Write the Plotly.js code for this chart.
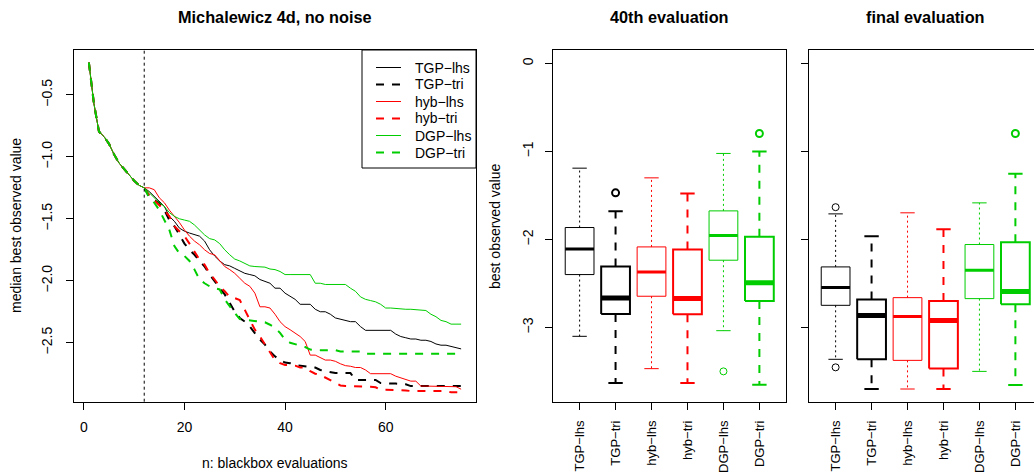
<!DOCTYPE html>
<html>
<head>
<meta charset="utf-8">
<script src="https://cdn.plot.ly/plotly-3.0.1.min.js"></script>
<style>
  html, body { margin: 0; padding: 0; overflow: hidden; background: #fff; }
  #chart { width: 1100px; height: 475px; }
</style>
</head>
<body>
<div id="chart"></div>
<script>
// ---------------- data ----------------
const seriesNames = ["TGP\u2212lhs", "TGP\u2212tri", "hyb\u2212lhs", "hyb\u2212tri", "DGP\u2212lhs", "DGP\u2212tri"];
const initDesignSize = 12;

// shared start (initial design, evaluations 1..12)
const initDesign = [-0.24, -0.57, -0.796, -0.836, -0.895, -0.98, -1.05, -1.10, -1.145, -1.193, -1.23, -1.25];

// median best observed value, evaluations 13..75
const tgpLhsTail = [-1.28, -1.32, -1.36, -1.40, -1.48, -1.52, -1.575, -1.60, -1.615, -1.63, -1.64, -1.68, -1.75, -1.80, -1.84, -1.87, -1.88, -1.90, -1.92, -1.94, -1.95, -1.96, -1.99, -2.005, -2.02, -2.06, -2.06, -2.10, -2.125, -2.15, -2.19, -2.19, -2.19, -2.23, -2.25, -2.25, -2.27,
  -2.30, -2.31, -2.32, -2.33, -2.33, -2.37, -2.40, -2.40, -2.40, -2.40, -2.40, -2.40, -2.43, -2.45, -2.46, -2.47, -2.47, -2.48, -2.48, -2.49, -2.51, -2.52, -2.52, -2.53, -2.54, -2.55];
const tgpTriTail = [-1.32, -1.35, -1.37, -1.43, -1.51, -1.56, -1.63, -1.70, -1.75, -1.79, -1.84, -1.885, -1.95, -2.005, -2.05, -2.11, -2.18, -2.25, -2.30, -2.33, -2.37, -2.42, -2.475, -2.515, -2.57, -2.61, -2.64, -2.66, -2.665, -2.68, -2.685, -2.685, -2.69, -2.70, -2.72, -2.73, -2.74,
  -2.745, -2.745, -2.745, -2.745, -2.80, -2.80, -2.80, -2.80, -2.80, -2.825, -2.83, -2.83, -2.83, -2.83, -2.835, -2.85, -2.85, -2.85, -2.85, -2.85, -2.85, -2.85, -2.85, -2.85, -2.85, -2.85];
const hybLhsTail = [-1.25, -1.265, -1.33, -1.37, -1.43, -1.48, -1.53, -1.59, -1.64, -1.68, -1.71, -1.75, -1.78, -1.79, -1.84, -1.885, -1.91, -1.94, -1.98, -2.02, -2.045, -2.10, -2.21, -2.21, -2.22, -2.27, -2.33, -2.37, -2.395, -2.42, -2.45, -2.49, -2.60, -2.60, -2.62, -2.64, -2.64,
  -2.65, -2.67, -2.685, -2.69, -2.70, -2.70, -2.72, -2.75, -2.75, -2.75, -2.75, -2.75, -2.77, -2.785, -2.80, -2.81, -2.81, -2.85, -2.85, -2.85, -2.85, -2.85, -2.85, -2.85, -2.855, -2.875];
const hybTriTail = [-1.31, -1.35, -1.39, -1.43, -1.48, -1.56, -1.60, -1.64, -1.70, -1.76, -1.83, -1.87, -1.94, -1.99, -2.045, -2.085, -2.13, -2.14, -2.155, -2.235, -2.315, -2.395, -2.45, -2.515, -2.58, -2.64, -2.665, -2.68, -2.68, -2.685, -2.70, -2.70, -2.73, -2.75, -2.76, -2.78, -2.80,
  -2.825, -2.845, -2.85, -2.85, -2.85, -2.85, -2.85, -2.855, -2.86, -2.88, -2.88, -2.88, -2.88, -2.88, -2.885, -2.89, -2.89, -2.89, -2.89, -2.89, -2.89, -2.89, -2.89, -2.90, -2.90, -2.90];
const dgpLhsTail = [-1.29, -1.33, -1.37, -1.40, -1.45, -1.48, -1.50, -1.51, -1.52, -1.55, -1.59, -1.63, -1.66, -1.67, -1.70, -1.75, -1.79, -1.825, -1.84, -1.86, -1.88, -1.885, -1.885, -1.89, -1.905, -1.91, -1.925, -1.95, -1.95, -1.95, -1.95, -1.95, -1.95, -2.02, -2.02, -2.03, -2.03,
  -2.03, -2.03, -2.03, -2.06, -2.085, -2.13, -2.15, -2.16, -2.17, -2.19, -2.22, -2.22, -2.225, -2.225, -2.23, -2.23, -2.235, -2.235, -2.24, -2.27, -2.29, -2.32, -2.33, -2.35, -2.35, -2.35];
const dgpTriTail = [-1.33, -1.37, -1.43, -1.51, -1.59, -1.72, -1.78, -1.80, -1.84, -1.91, -1.99, -2.02, -2.045, -2.06, -2.07, -2.15, -2.21, -2.26, -2.31, -2.315, -2.315, -2.32, -2.33, -2.335, -2.355, -2.38, -2.42, -2.475, -2.50, -2.51, -2.52, -2.535, -2.555, -2.56, -2.56, -2.56, -2.56,
  -2.56, -2.57, -2.57, -2.57, -2.57, -2.57, -2.59, -2.59, -2.59, -2.59, -2.59, -2.59, -2.59, -2.59, -2.59, -2.59, -2.59, -2.59, -2.59, -2.59, -2.59, -2.59, -2.59, -2.59, -2.59, -2.59];

const medianCurves = [
  initDesign.concat(tgpLhsTail),
  initDesign.concat(tgpTriTail),
  initDesign.concat(hybLhsTail),
  initDesign.concat(hybTriTail),
  initDesign.concat(dgpLhsTail),
  initDesign.concat(dgpTriTail)
];
const evaluations = medianCurves[0].map((_, i) => i + 1);

// boxplot statistics at the 40th evaluation
const eval40Upper  = [-1.19, -1.678, -1.30, -1.478, -1.023, -1.00];
const eval40Q3     = [-1.864, -2.307, -2.084, -2.114, -1.675, -1.97];
const eval40Median = [-2.107, -2.663, -2.368, -2.67, -1.955, -2.49];
const eval40Q1     = [-2.398, -2.845, -2.644, -2.849, -2.235, -2.697];
const eval40Lower  = [-3.099, -3.63, -3.466, -3.63, -3.035, -3.648];
const eval40Out    = [[], [-1.47], [], [], [-3.497], [-0.796]];

// boxplot statistics at the final evaluation
const finalUpper  = [-1.709, -1.963, -1.697, -1.883, -1.584, -1.254];
const finalQ3     = [-2.311, -2.682, -2.66, -2.697, -2.057, -2.031];
const finalMedian = [-2.546, -2.864, -2.875, -2.92, -2.349, -2.591];
const finalQ1     = [-2.747, -3.36, -3.372, -3.463, -2.671, -2.735];
const finalLower  = [-3.36, -3.697, -3.697, -3.697, -3.497, -3.652];
const finalOut    = [[-1.633, -3.451], [], [], [], [], [-0.796]];

// ---------------- styles ----------------
const GREEN = "#00CD00";
const colors = ["black", "black", "red", "red", GREEN, GREEN];
const lineWidths = [1, 2, 1, 2, 1, 2];
const curveDash = ["solid", "8px,8px", "solid", "8px,8px", "solid", "8px,8px"];
const whiskerDash = ["2px,3px", "8px,8px", "2px,3px", "8px,8px", "2px,3px", "8px,8px"];
const medianWidths = [3, 5, 3, 5, 3, 5];
const BOX_HALF = 0.4, CAP_HALF = 0.2;
const FONT = "Liberation Sans, Arial, Helvetica, sans-serif";
const FS = 14, FS_TITLE = 16.3, FS_CAT = 13;

const traces = [];

// left panel: median curves
medianCurves.forEach((ys, k) => {
  traces.push({
    type: "scatter", mode: "lines", x: evaluations, y: ys,
    name: seriesNames[k], xaxis: "x", yaxis: "y", showlegend: false,
    line: { color: colors[k], width: lineWidths[k], dash: curveDash[k] }
  });
});

function addBoxes(upper, q3, med, q1, lower, outs, xa, ya) {
  for (let i = 0; i < seriesNames.length; i++) {
    const p = i + 1;
    traces.push({
      type: "scatter", mode: "lines", xaxis: xa, yaxis: ya, showlegend: false, name: seriesNames[i],
      x: [p - BOX_HALF, p + BOX_HALF, p + BOX_HALF, p - BOX_HALF, p - BOX_HALF, null,
          p - CAP_HALF, p + CAP_HALF, null, p - CAP_HALF, p + CAP_HALF],
      y: [q1[i], q1[i], q3[i], q3[i], q1[i], null, upper[i], upper[i], null, lower[i], lower[i]],
      line: { color: colors[i], width: lineWidths[i] }
    });
    traces.push({
      type: "scatter", mode: "lines", xaxis: xa, yaxis: ya, showlegend: false, name: seriesNames[i],
      x: [p, p, null, p, p],
      y: [q3[i], upper[i], null, q1[i], lower[i]],
      line: { color: colors[i], width: lineWidths[i], dash: whiskerDash[i] }
    });
    traces.push({
      type: "scatter", mode: "lines", xaxis: xa, yaxis: ya, showlegend: false, name: seriesNames[i],
      x: [p - BOX_HALF, p + BOX_HALF], y: [med[i], med[i]],
      line: { color: colors[i], width: medianWidths[i] }
    });
    if (outs[i].length) {
      traces.push({
        type: "scatter", mode: "markers", xaxis: xa, yaxis: ya, showlegend: false, name: seriesNames[i],
        x: outs[i].map(() => p), y: outs[i],
        marker: { symbol: "circle-open", size: 7, color: colors[i], line: { width: lineWidths[i], color: colors[i] } }
      });
    }
  }
}
addBoxes(eval40Upper, eval40Q3, eval40Median, eval40Q1, eval40Lower, eval40Out, "x2", "y2");
addBoxes(finalUpper, finalQ3, finalMedian, finalQ1, finalLower, finalOut, "x3", "y3");

// ---------------- layout ----------------
const W = 1100, H = 475;
const px = v => v / W;
const py = v => (H - v) / H;

const axisBase = {
  showgrid: false, zeroline: false, showline: true, mirror: true,
  linecolor: "black", linewidth: 1, ticks: "outside", ticklen: 7,
  tickcolor: "black", tickwidth: 1,
  tickfont: { family: FONT, size: FS, color: "black" }
};
const catFont = { family: FONT, size: FS_CAT, color: "black" };
const boxY = [-3.848, 0.148];
const catIdx = seriesNames.map((_, i) => i + 1);

const shapes = [{
  type: "line", xref: "x", yref: "y domain", x0: initDesignSize, x1: initDesignSize, y0: 0, y1: 1,
  line: { color: "black", width: 1, dash: "3px,3px" }
}];
const annotations = [];
function label(text, x, y, size, extra) {
  annotations.push(Object.assign({
    text: text, xref: "paper", yref: "paper", x: px(x), y: py(y),
    xanchor: "center", yanchor: "middle", showarrow: false,
    font: { family: FONT, size: size, color: "black" }
  }, extra || {}));
}
label("<b>Michalewicz 4d, no noise</b>", 275, 17, FS_TITLE);
label("<b>40th evaluation</b>", 669.5, 17, FS_TITLE);
label("<b>final evaluation</b>", 925.5, 17, FS_TITLE);
label("n: blackbox evaluations", 275, 463, FS);
label("median best observed value", 16, 226, FS, { textangle: -90 });
label("best observed value", 495, 226, FS, { textangle: -90 });

// legend box (top-right of the left panel)
const LEG = { x0: 362, x1: 476, y0: 50, y1: 168, row0: 67.5, rowStep: 17, lineX0: 376, lineX1: 401, textX: 413 };
shapes.push({
  type: "rect", xref: "paper", yref: "paper", x0: px(LEG.x0), x1: px(LEG.x1), y0: py(LEG.y1), y1: py(LEG.y0),
  line: { color: "black", width: 1 }, fillcolor: "white", layer: "above"
});
seriesNames.forEach((nm, k) => {
  const yy = LEG.row0 + k * LEG.rowStep;
  shapes.push({
    type: "line", xref: "paper", yref: "paper", x0: px(LEG.lineX0), x1: px(LEG.lineX1), y0: py(yy), y1: py(yy),
    line: { color: colors[k], width: lineWidths[k], dash: curveDash[k] }, layer: "above"
  });
  label(nm, LEG.textX, yy, FS, { xanchor: "left" });
});

const layout = {
  width: W, height: H,
  margin: { l: 0, r: 0, t: 0, b: 0 },
  paper_bgcolor: "white", plot_bgcolor: "white",
  font: { family: FONT, size: FS, color: "black" },
  showlegend: false,
  xaxis: Object.assign({}, axisBase, {
    domain: [px(74), px(476)], range: [-1.96, 77.96],
    tickvals: [0, 20, 40, 60], anchor: "y", ticklabelstandoff: 5
  }),
  yaxis: Object.assign({}, axisBase, {
    domain: [py(401.7), py(50.3)], range: [-2.976, -0.14],
    tickvals: [-2.5, -2.0, -1.5, -1.0, -0.5], tickformat: ".1f", tickangle: -90, anchor: "x", ticklabelstandoff: 8
  }),
  xaxis2: Object.assign({}, axisBase, {
    domain: [px(553), px(786)], range: [0.26, 6.74], tickfont: catFont,
    tickvals: catIdx, ticktext: seriesNames, tickangle: -90, anchor: "y2", ticklabelstandoff: 5
  }),
  yaxis2: Object.assign({}, axisBase, {
    domain: [py(402.3), py(50.3)], range: boxY,
    tickvals: [-3, -2, -1, 0], tickangle: -90, anchor: "x2", ticklabelstandoff: 6
  }),
  xaxis3: Object.assign({}, axisBase, {
    domain: [px(809), px(1042)], range: [0.26, 6.74], tickfont: catFont,
    tickvals: catIdx, ticktext: seriesNames, tickangle: -90, anchor: "y3", ticklabelstandoff: 5
  }),
  yaxis3: Object.assign({}, axisBase, {
    domain: [py(402.3), py(50.3)], range: boxY,
    tickvals: [-3, -2, -1, 0], showticklabels: false, anchor: "x3"
  }),
  shapes: shapes,
  annotations: annotations
};

Plotly.newPlot("chart", traces, layout, { staticPlot: true, displayModeBar: false });
</script>
</body>
</html>
